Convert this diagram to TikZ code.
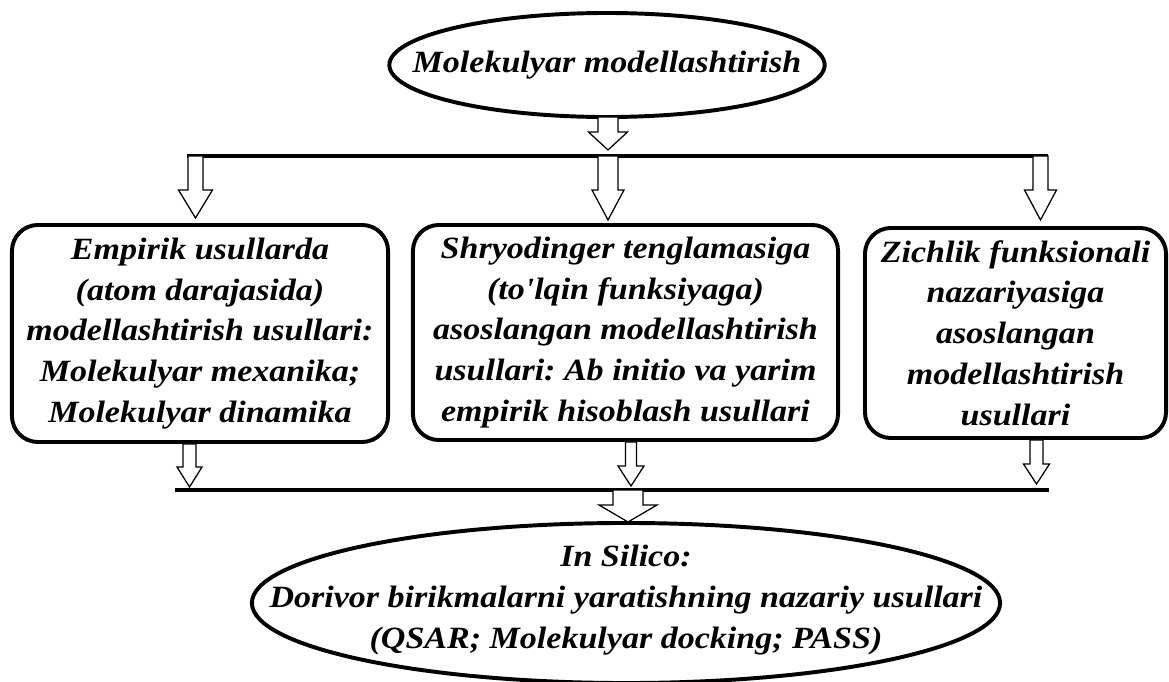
\documentclass[tikz,border=0pt]{standalone}
\usepackage{fontspec}
\setmainfont{Liberation Serif}[FakeStretch=1.1, Ligatures=TeXOff]
\usetikzlibrary{shapes.geometric,calc}

\newcommand{\hollowarrow}[5]{%
  \draw[harrow] ($(#2|-#1)+(-#3,0)$) -- ($(#2)+(-#3,-#5)$) -- ($(#2)+(-#4,-#5)$) -- (#2)
    -- ($(#2)+(#4,-#5)$) -- ($(#2)+(#3,-#5)$) -- ($(#2|-#1)+(#3,0)$) -- cycle;}

\tikzset{
  txt/.style={align=center, inner sep=0pt, font=\fontsize{22}{29}\selectfont\bfseries\itshape\frenchspacing},
  box/.style={txt, draw, rounded corners=0.65cm, line width=2.8pt},
  oval/.style={draw, line width=2.8pt},
  bar/.style={line width=3.5pt},
  harrow/.style={draw, fill=white, line width=0.9pt, line join=miter}
}

\begin{document}
\begin{tikzpicture}[x=0.025cm, y=-0.025cm]
        \useasboundingbox (0,0) rectangle (1169,682);
        \node[txt](M) at (607,65) {Molekulyar modellashtirish};
        \node[box, minimum width=9.4cm, minimum height=5.425cm](E) at (200,333.5)
            {Empirik usullarda\\(atom darajasida)\\modellashtirish usullari:\\Molekulyar mexanika;\\Molekulyar dinamika};
        \node[box, minimum width=10.625cm, minimum height=5.375cm](S) at (625.5,332.5)
            {Shryodinger tenglamasiga\\(to'lqin funksiyaga)\\asoslangan modellashtirish\\usullari: Ab initio va yarim\\empirik hisoblash usullari};
        \node[box, minimum width=7.525cm, minimum height=5.25cm](Z) at (1015.5,333)
            {Zichlik funksionali\\nazariyasiga\\asoslangan\\modellashtirish\\usullari};
        \node[txt](I) at (626,600)
            {In Silico:\\Dorivor birikmalarni yaratishning nazariy usullari\\(QSAR; Molekulyar docking; PASS)};
        \draw[oval] (M.center) ellipse [x radius=5.44cm, y radius=1.3cm];
        \draw[oval] (626,603) ellipse [x radius=9.35cm, y radius=2cm];

        \coordinate (m0) at (608,117);
        \coordinate (L1) at (187,156);
        \coordinate (R1) at (1048,156);
        \coordinate (L2) at (175,490);
        \coordinate (R2) at (1049,490);
        \coordinate (t0) at (608,150);
        \coordinate (t1) at (195.5,218);
        \coordinate (t2) at (608,220);
        \coordinate (t3) at (1040.5,220);
        \coordinate (t4) at (189.5,487);
        \coordinate (t5) at (631,486);
        \coordinate (t6) at (1036.5,484);
        \coordinate (t7) at (628,522);

        \draw[bar] (L1) -- (R1);
        \draw[bar] (L2) -- (R2);
        \hollowarrow{m0}{t0}{10}{19.5}{18}
        \hollowarrow{L1}{t1}{7.5}{17}{28}
        \hollowarrow{L1}{t2}{10}{16}{30}
        \hollowarrow{L1}{t3}{7.5}{16}{30}
        \hollowarrow{E.south}{t4}{6.5}{12.5}{20}
        \hollowarrow{S.south}{t5}{5.5}{13}{20}
        \hollowarrow{Z.south}{t6}{6.5}{13}{20}
        \hollowarrow{L2}{t7}{15}{29}{17}
    \end{tikzpicture}
\end{document}
